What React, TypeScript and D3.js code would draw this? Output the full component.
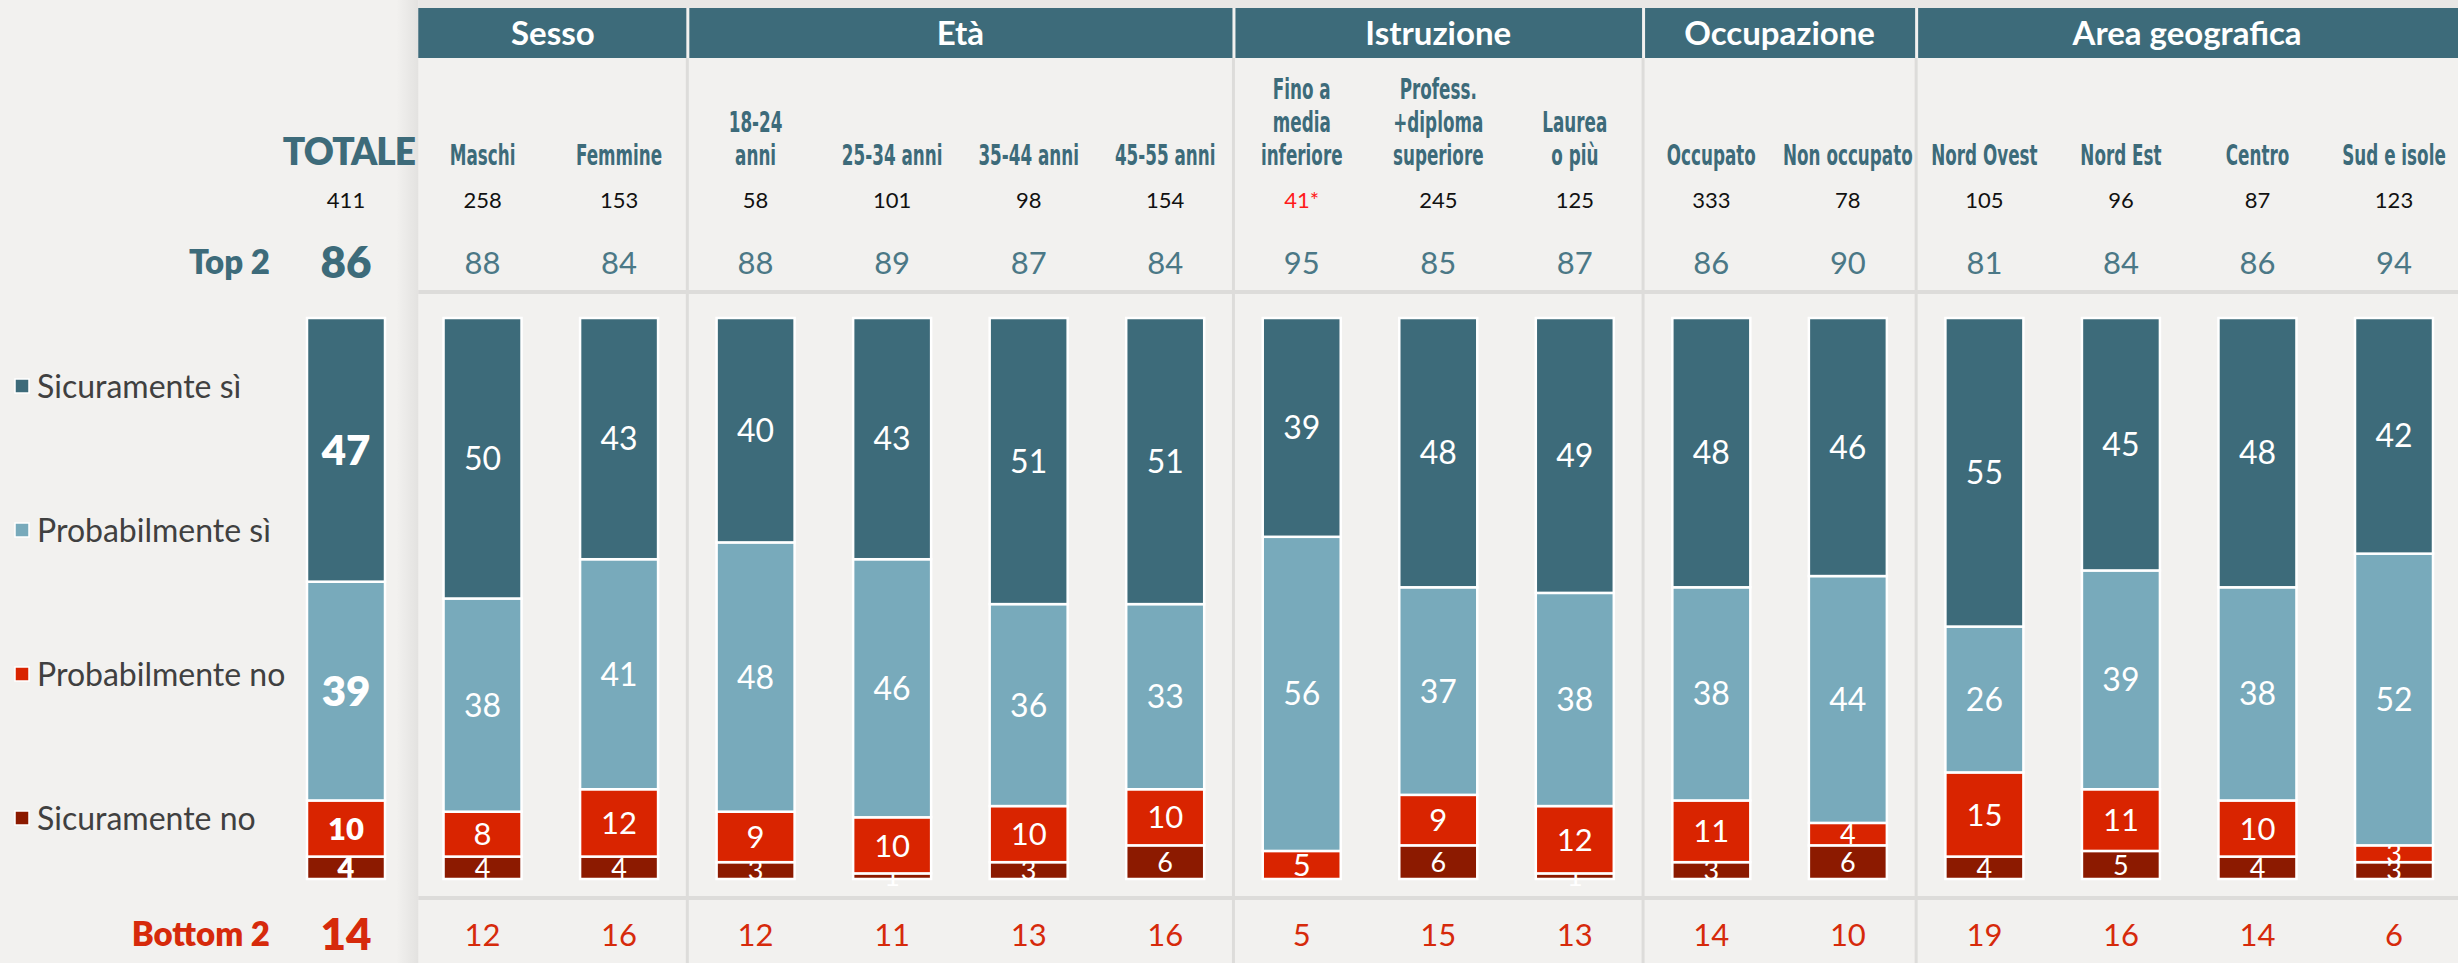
import React from 'react';
import * as d3 from 'd3';

// columns of the chart (first one is the total)
const columns = [
  'Totale', 'Maschi', 'Femmine', '18-24 anni', '25-34 anni', '35-44 anni', '45-55 anni',
  'Fino a media inferiore', 'Profess.+diploma superiore', 'Laurea o più',
  'Occupato', 'Non occupato', 'Nord Ovest', 'Nord Est', 'Centro', 'Sud e isole',
];
const columnLines = [
  ['TOTALE'], ['Maschi'], ['Femmine'], ['18-24', 'anni'], ['25-34 anni'], ['35-44 anni'], ['45-55 anni'],
  ['Fino a', 'media', 'inferiore'], ['Profess.', '+diploma', 'superiore'], ['Laurea', 'o più'],
  ['Occupato'], ['Non occupato'], ['Nord Ovest'], ['Nord Est'], ['Centro'], ['Sud e isole'],
];
const sampleSizes = ['411', '258', '153', '58', '101', '98', '154', '41*', '245', '125', '333', '78', '105', '96', '87', '123'];
const smallSample = ['41*'];

const sicuramenteSi = [47, 50, 43, 40, 43, 51, 51, 39, 48, 49, 48, 46, 55, 45, 48, 42];
const probabilmenteSi = [39, 38, 41, 48, 46, 36, 33, 56, 37, 38, 38, 44, 26, 39, 38, 52];
const probabilmenteNo = [10, 8, 12, 9, 10, 10, 10, 5, 9, 12, 11, 4, 15, 11, 10, 3];
const sicuramenteNo = [4, 4, 4, 3, 1, 3, 6, 0, 6, 1, 3, 6, 4, 5, 4, 3];
const top2 = [86, 88, 84, 88, 89, 87, 84, 95, 85, 87, 86, 90, 81, 84, 86, 94];
const bottom2 = [14, 12, 16, 12, 11, 13, 16, 5, 15, 13, 14, 10, 19, 16, 14, 6];

const groupNames = ['Sesso', 'Età', 'Istruzione', 'Occupazione', 'Area geografica'];
const groupMembers = [
  ['Maschi', 'Femmine'],
  ['18-24 anni', '25-34 anni', '35-44 anni', '45-55 anni'],
  ['Fino a media inferiore', 'Profess.+diploma superiore', 'Laurea o più'],
  ['Occupato', 'Non occupato'],
  ['Nord Ovest', 'Nord Est', 'Centro', 'Sud e isole'],
];

const seriesNames = ['Sicuramente sì', 'Probabilmente sì', 'Probabilmente no', 'Sicuramente no'];
const seriesColors = ['#3d6b7a', '#78aabb', '#d92400', '#8c1a00'];

const W = 2458;
const H = 963;
const TEAL = '#3d6b7a';
const RED = '#d62a0b';
const BG = '#f2f1ef';
const LINE = '#dddcda';
const FONT = 'Lato, "Open Sans", sans-serif';
const NARROW = '"DejaVu Sans", sans-serif';

export default function App() {
  const x = d3.scalePoint<string>().domain(columns).range([346, 2394]);
  const step = x.step();
  const barW = 78;
  const y = d3.scaleLinear().domain([0, 100]).range([879, 318]);

  const rows = columns.map((c, i) => ({
    col: c,
    sicNo: sicuramenteNo[i],
    probNo: probabilmenteNo[i],
    probSi: probabilmenteSi[i],
    sicSi: sicuramenteSi[i],
  }));
  // stacked from the bottom up
  const keys = ['sicNo', 'probNo', 'probSi', 'sicSi'];
  const keyColor: Record<string, string> = {
    sicSi: seriesColors[0], probSi: seriesColors[1], probNo: seriesColors[2], sicNo: seriesColors[3],
  };
  const stacked = d3.stack<any>().keys(keys)(rows);

  const groups = groupNames.map((g, i) => {
    const m = groupMembers[i];
    return { name: g, x0: (x(m[0]) as number) - step / 2, x1: (x(m[m.length - 1]) as number) + step / 2 };
  });
  const panelLeft = groups[0].x0 + 4;

  return (
    <svg width={W} height={H} style={{ position: 'absolute', left: 0, top: 0, background: BG }}>
      <defs>
        <linearGradient id="shade" x1="0" x2="1" y1="0" y2="0">
          <stop offset="0" stopColor={BG} />
          <stop offset="1" stopColor="#e3e2e0" />
        </linearGradient>
      </defs>
      <rect x={0} y={0} width={W} height={H} fill={BG} />
      <rect x={panelLeft - 22} y={0} width={22} height={H} fill="url(#shade)" />
      <rect x={panelLeft} y={0} width={W - panelLeft} height={8} fill="#e8e7e5" />

      {/* group separators and horizontal rules */}
      {groups.slice(1).map((g) => (
        <line key={g.name} x1={g.x0} x2={g.x0} y1={58} y2={H} stroke={LINE} strokeWidth={3} />
      ))}
      <line x1={panelLeft} x2={W} y1={292} y2={292} stroke={LINE} strokeWidth={4} />
      <line x1={panelLeft} x2={W} y1={898} y2={898} stroke={LINE} strokeWidth={4} />

      {/* group header band */}
      {groups.map((g, i) => (
        <g key={g.name}>
          <rect x={i === 0 ? panelLeft : g.x0 + 2} y={8} width={g.x1 - (i === 0 ? panelLeft : g.x0 + 2) - 1} height={50} fill={TEAL} />
          <text x={(g.x0 + Math.min(g.x1, W)) / 2 + (i === 0 ? 2 : 0)} y={45} textAnchor="middle" fill="#fff"
            fontFamily={FONT} fontWeight={700} fontSize={33}>{g.name}</text>
        </g>
      ))}

      {/* column labels */}
      {columns.map((c, i) => {
        const lines = columnLines[i];
        if (i === 0) {
          return (
            <text key={c} x={415} y={165} textAnchor="end" fill={TEAL} fontFamily={FONT} fontWeight={800}
              fontSize={37} letterSpacing={-1}>{lines[0]}</text>
          );
        }
        return (
          <text key={c} transform={`translate(${x(c)},0) scale(0.6,1)`} textAnchor="middle" fill={TEAL}
            fontFamily={NARROW} fontWeight={700} fontSize={28}>
            {lines.map((l, j) => (
              <tspan key={j} x={0} y={165 - (lines.length - 1 - j) * 33}>{l}</tspan>
            ))}
          </text>
        );
      })}

      {/* sample sizes */}
      {columns.map((c, i) => (
        <text key={c} x={x(c)} y={208} textAnchor="middle" fontFamily={FONT} fontSize={22}
          fill={smallSample.includes(sampleSizes[i]) ? '#ff1a1a' : '#111'}>{sampleSizes[i]}</text>
      ))}

      {/* Top 2 row */}
      <text x={270} y={262} dy="0.35em" textAnchor="end" fill={TEAL} fontFamily={FONT} fontWeight={800} fontSize={33}>Top 2</text>
      {columns.map((c, i) => (
        <text key={c} x={x(c)} y={263} dy="0.35em" textAnchor="middle" fill={i === 0 ? TEAL : '#4b7886'}
          fontFamily={FONT} fontWeight={i === 0 ? 800 : 400} fontSize={i === 0 ? 44 : 31}>{top2[i]}</text>
      ))}

      {/* stacked bars */}
      {stacked.map((s) => (
        <g key={s.key}>
          {s.map((d, i) => {
            const v = d[1] - d[0];
            if (v <= 0) return null;
            const cx = x(columns[i]) as number;
            const y0 = y(d[0]);
            const y1 = y(d[1]);
            const bold = i === 0;
            let fs = bold ? 42 : 32;
            if (s.key === 'probNo' && bold) fs = 31;
            if (s.key === 'probNo' && !bold) fs = v < 5 ? 27 : 31;
            if (s.key === 'sicNo') fs = bold ? 29 : 27;
            return (
              <g key={i}>
                <rect x={cx - barW / 2} y={y1} width={barW} height={y0 - y1} fill={keyColor[s.key]}
                  stroke="#fff" strokeWidth={2.5} />
                <text x={cx} y={(y0 + y1) / 2} dy="0.36em" textAnchor="middle" fill="#fff"
                  fontFamily={FONT} fontWeight={bold ? 800 : 400} fontSize={fs}>{v}</text>
              </g>
            );
          })}
        </g>
      ))}

      {/* legend */}
      {seriesNames.map((n, i) => {
        const cy = 386 + i * 144;
        return (
          <g key={n}>
            <rect x={15} y={cy - 7} width={14} height={14} fill={seriesColors[i]} stroke="#fff" strokeWidth={1.5} />
            <text x={37} y={cy} dy="0.36em" fill="#404040" fontFamily={FONT} fontSize={32}>{n}</text>
          </g>
        );
      })}

      {/* Bottom 2 row */}
      <text x={270} y={934} dy="0.35em" textAnchor="end" fill={RED} fontFamily={FONT} fontWeight={800} fontSize={33}>Bottom 2</text>
      {columns.map((c, i) => (
        <text key={c} x={x(c)} y={935} dy="0.35em" textAnchor="middle" fill={RED}
          fontFamily={FONT} fontWeight={i === 0 ? 800 : 400} fontSize={i === 0 ? 44 : 31}>{bottom2[i]}</text>
      ))}
    </svg>
  );
}
